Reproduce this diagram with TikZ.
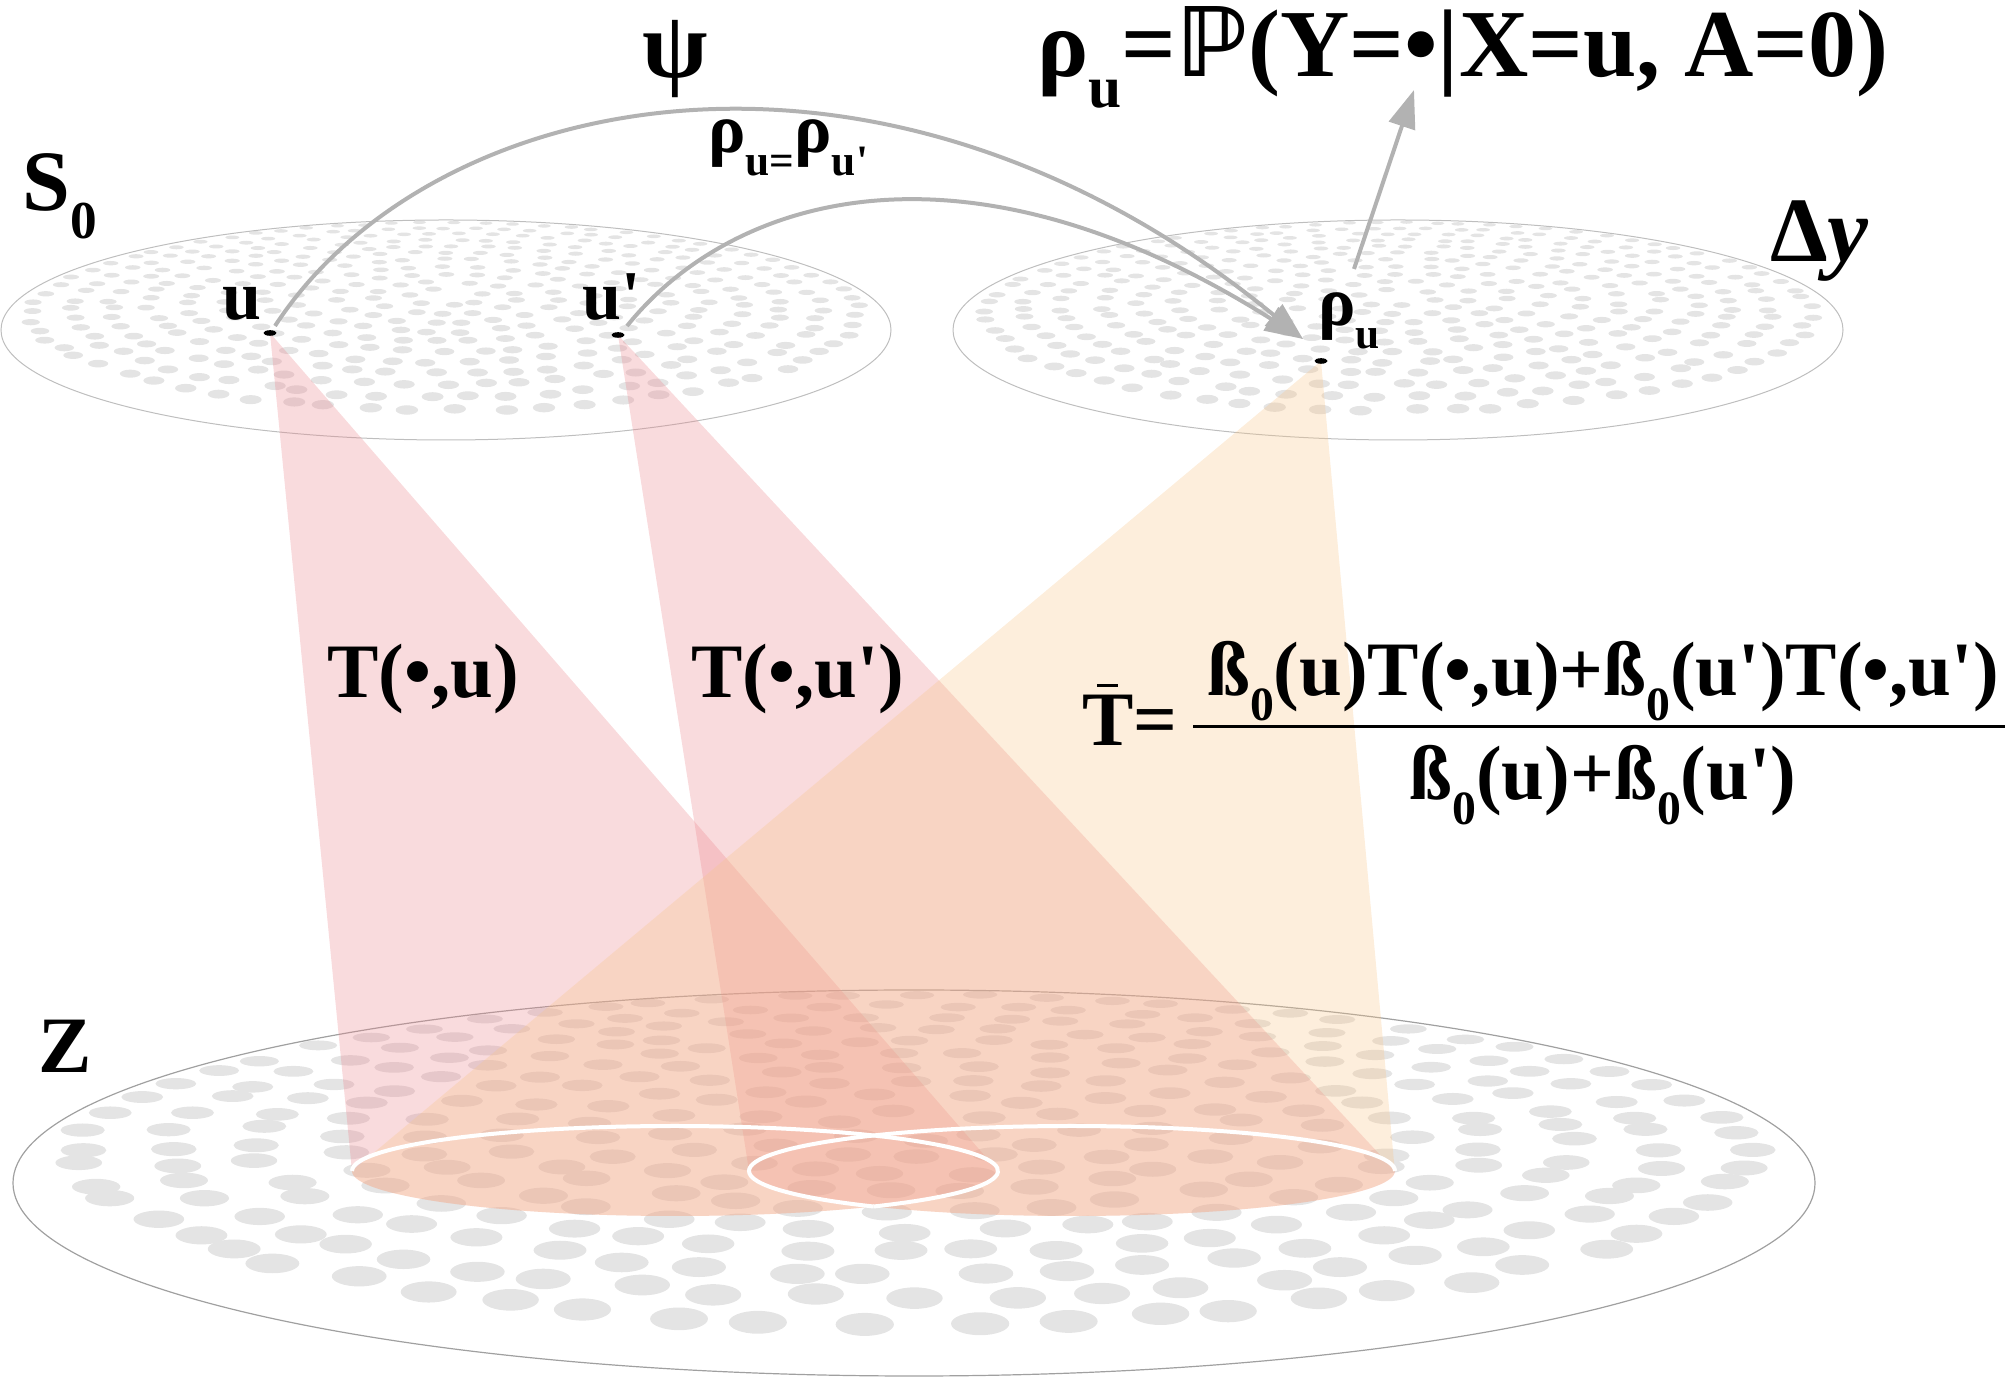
\documentclass[tikz,border=0pt]{standalone}
\usepackage{fontspec}
\setmainfont{Liberation Serif}
\newfontfamily\dejavu{DejaVu Sans}
\usetikzlibrary{arrows.meta}

\definecolor{dotgray}{RGB}{228,228,228}
\definecolor{rimgray}{RGB}{190,190,190}
\definecolor{zrimgray}{RGB}{160,160,160}
\definecolor{arrowgray}{RGB}{178,178,178}
\definecolor{conepink}{RGB}{235,135,142}
\definecolor{coneorange}{RGB}{248,198,138}

\newcommand{\lo}[1]{\raisebox{-.32em}{\scalebox{.62}{#1}}}
\newcommand{\pr}{\textquotesingle}
\newcommand{\Tb}{\leavevmode\rlap{\hspace{.19em}\rule[.76em]{.28em}{.05em}}T}
\newcommand{\Pb}{{\dejavu\bfseries ℙ}}

% dots of a plane seen in perspective:
% centre x, centre y, x radius, y radius, rings, front dot size, dot flatness
\newcommand{\dotdisk}[7]{%
  \foreach \k in {1,...,#5}{%
    \pgfmathtruncatemacro{\nn}{round(6.28*\k)}%
    \foreach \j in {1,...,\nn}{%
      \pgfmathsetmacro{\dang}{360/\nn*(\j+0.2*rand)+37*\k}%
      \pgfmathsetmacro{\sn}{sin(\dang)}%
      \pgfmathsetmacro{\rr}{(\k+0.12*rand)/(#5+0.5)*(1-0.06*(abs(\sn)-\sn))}%
      \pgfmathsetmacro{\ds}{1.41+0.41*\rr*\sn}%
      \fill[dotgray] ({#1+#3/0.7413*\rr*cos(\dang)/\ds},{#2-#4+4.439*#4*(1-1/\ds)})
          ellipse[x radius={#6/\ds}, y radius={#6*#7/(\ds*\ds)}];
    }%
  }%
}

\begin{document}
\begin{tikzpicture}[x=1pt, y=1pt,
    lab/.style={inner sep=0},
    big/.style={lab, font=\fontsize{96}{100}\selectfont\bfseries},
    mid/.style={lab, font=\fontsize{77}{90}\selectfont\bfseries},
    small/.style={lab, font=\fontsize{70}{80}\selectfont\bfseries},
    garrow/.style={draw=arrowgray, line width=4, -{Triangle[length=38pt, width=27pt]}}]
    \useasboundingbox (0,0) rectangle (2007,1378);
    \pgfmathsetseed{11}

    % three planes
    \dotdisk{914}{195}{901}{193}{10}{31}{.42}
    \draw[zrimgray, line width=1.2] (914,195) ellipse[x radius=901, y radius=193];
    \dotdisk{446}{1048}{445}{110}{11}{12}{.45}
    \draw[rimgray, line width=1] (446,1048) ellipse[x radius=445, y radius=110];
    \dotdisk{1398}{1048}{445}{110}{11}{12}{.45}
    \draw[rimgray, line width=1] (1398,1048) ellipse[x radius=445, y radius=110];

    \coordinate (u) at (270,1045);
    \coordinate (up) at (618,1043);
    \coordinate (rho) at (1321,1017);
    \coordinate (zl) at (675,207);
    \coordinate (zr) at (1072,207);

    % cones
    \fill[conepink, fill opacity=.3] (u) -- ([xshift=-323]zl)
        arc[start angle=180, end angle=360, x radius=323, y radius=45] -- cycle;
    \fill[conepink, fill opacity=.3] (up) -- ([xshift=-323]zr)
        arc[start angle=180, end angle=360, x radius=323, y radius=45] -- cycle;
    \fill[coneorange, fill opacity=.3] (rho) -- ([xshift=-323]zl)
        arc[start angle=180, end angle=307.9, x radius=323, y radius=45]
        arc[start angle=232.1, end angle=360, x radius=323, y radius=45] -- cycle;
    \draw[white, line width=4] ([shift={(-52.1:323 and 45)}]zl)
        arc[start angle=-52.1, end angle=180, x radius=323, y radius=45];
    \draw[white, line width=4] ([xshift=323]zr)
        arc[start angle=0, end angle=232.1, x radius=323, y radius=45];

    % points
    \fill (u) ellipse[x radius=6.5, y radius=2.8];
    \fill (up) ellipse[x radius=6.5, y radius=2.8];
    \fill (rho) ellipse[x radius=6.5, y radius=2.8];

    % labels
    \node[small, anchor=base east] (ulab) at (262,1058) {u};
    \node[small, anchor=base west] (uplab) at (582,1058) {u\pr};
    \node[small, anchor=base west] (rholab) at (1318,1052) {ρ\lo{u}};
    \node[lab, font=\fontsize{86}{90}\selectfont\bfseries, anchor=base west] (S) at (22,1167) {S\lo{0}};
    \node[lab, font=\fontsize{92}{96}\selectfont\bfseries, anchor=base west] (D) at (1770,1116) {Δ\textit{y}};
    \node[lab, font=\fontsize{80}{90}\selectfont\bfseries, anchor=base west] (Z) at (38,305) {Z};
    \node[lab, font=\fontsize{95}{100}\selectfont\bfseries, anchor=base] (psi) at (675,1300) {ψ};
    \node[lab, font=\fontsize{70}{74}\selectfont\bfseries, anchor=base west] (eq) at (708,1225) {ρ\lo{u=}ρ\lo{u\pr}};
    \node[big, anchor=base west] (prob) at (1037,1301) {ρ\lo{u}=\Pb(Y=•|X=u, A=0)};
    \node[mid, anchor=base west] (Tu) at (327,680) {T(•,u)};
    \node[mid, anchor=base west] (Tup) at (691,680) {T(•,u\pr)};
    \node[mid, anchor=base west] (Tbar) at (1082,632) {\Tb=};
    \node[mid, anchor=base] (num) at (1603,682) {ß\lo{0}(u)T(•,u)+ß\lo{0}(u\pr)T(•,u\pr)};
    \node[mid, anchor=base] (den) at (1603,578) {ß\lo{0}(u)+ß\lo{0}(u\pr)};
    \coordinate (fl) at (1193,651);
    \coordinate (fr) at (2005,651);
    \draw[line width=3] (fl) -- (fr);

    % arrows
    \coordinate (rhoin) at ([shift={(-18,22)}]rho);
    \coordinate (probtip) at (1414,1288);
    \draw[garrow] ([shift={(5,7)}]u) .. controls (430,1290) and (880,1385) .. (rhoin);
    \draw[garrow] ([shift={(9,9)}]up) .. controls (730,1180) and (960,1255) .. (rhoin);
    \draw[garrow] ([shift={(33,92)}]rho) -- (probtip);
\end{tikzpicture}
\end{document}
